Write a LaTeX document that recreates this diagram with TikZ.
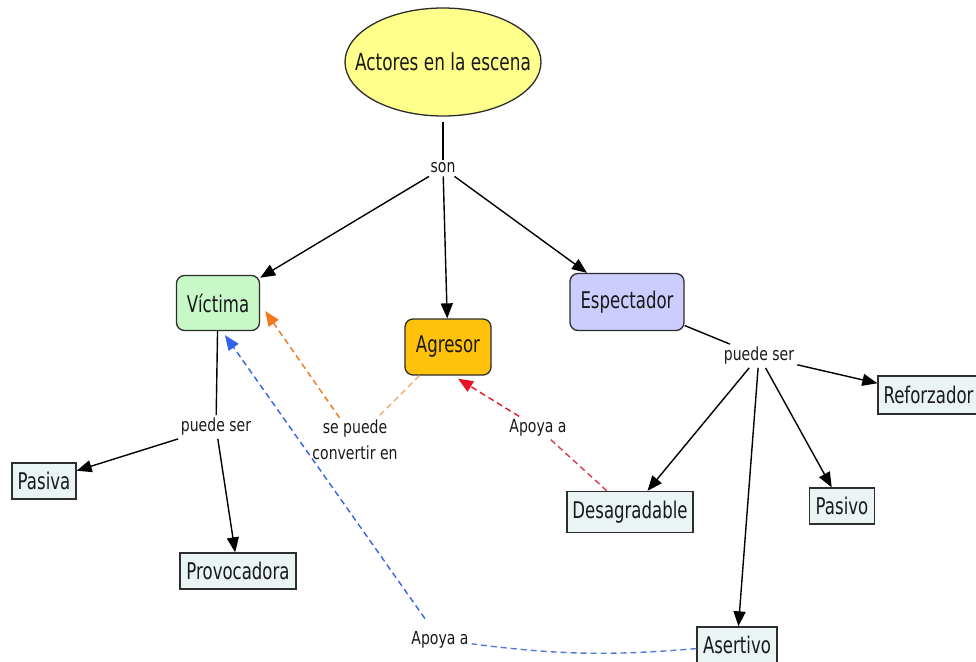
\documentclass[tikz,border=0pt]{standalone}
\usepackage{fontspec}
\setmainfont{DejaVu Sans}
\newfontfamily\cfont{DejaVu Sans}[FakeStretch=0.72]
\newfontfamily\lfont{DejaVu Sans}[FakeStretch=0.78]
\usetikzlibrary{arrows.meta,shapes.geometric,calc}
\definecolor{bord}{RGB}{45,45,45}
\definecolor{txt}{RGB}{25,25,25}
\definecolor{yel}{RGB}{255,255,140}
\definecolor{grn}{RGB}{200,248,200}
\definecolor{org}{RGB}{255,194,10}
\definecolor{lav}{RGB}{204,204,255}
\definecolor{leafc}{RGB}{234,244,244}
\definecolor{orA}{RGB}{240,120,30}
\definecolor{orB}{RGB}{240,165,100}
\definecolor{rdA}{RGB}{232,20,40}
\definecolor{rdB}{RGB}{215,60,80}
\definecolor{blA}{RGB}{50,100,235}
\definecolor{blB}{RGB}{85,120,215}
\begin{document}
\begin{tikzpicture}[x=1pt,y=-1pt,
  concept/.style={draw=bord, line width=1.3pt, rounded corners=8pt, text=txt,
    font=\cfont\fontsize{23}{27}\selectfont, inner xsep=10pt, minimum height=55pt},
  leaf/.style={draw=bord, line width=1.3pt, fill=leafc, text=txt,
    font=\cfont\fontsize{23}{27}\selectfont, inner xsep=5.5pt, minimum height=36pt},
  lab/.style={font=\lfont\fontsize{18}{26}\selectfont, fill=white, inner sep=3pt, text=txt},
  conn/.style={line width=1.4pt, black},
  tip/.style={-{Triangle[length=15pt,width=12pt]}},
  arr/.style={conn, tip},
  dsh/.style={line width=1.4pt, dash pattern=on 6pt off 4pt}
]
\useasboundingbox[fill=white] (0,0) rectangle (976,661);

% concepts
\node[ellipse, draw=bord, line width=1.3pt, fill=yel, minimum width=196pt, minimum height=108pt,
  inner sep=0pt, font=\cfont\fontsize{23.5}{27}\selectfont, text=txt] (act) at (443,62) {\makebox[0pt]{Actores en la escena}};
\node[concept, fill=grn, minimum width=83pt] (vic) at (218,303) {Víctima};
\node[concept, fill=org, minimum width=86pt, minimum height=56pt] (agr) at (448,347) {Agresor};
\node[concept, fill=lav, minimum width=114pt, minimum height=57pt] (esp) at (627,302) {Espectador};

\node[leaf, minimum width=64pt] (pasa) at (44,481) {Pasiva};
\node[leaf, minimum width=116pt] (pro) at (238,571) {Provocadora};
\node[leaf, minimum width=126pt, minimum height=41pt] (des) at (630,512) {Desagradable};
\node[leaf, minimum width=65pt] (paso) at (842,506) {Pasivo};
\node[leaf, minimum height=38pt] (ref) at (928.5,395) {Reforzador};
\node[leaf, minimum width=80pt] (ase) at (737,645) {Asertivo};

% labels
\node[lab] (son) at (443,168) {son};
\node[lab] (vps) at (216,427) {puede ser};
\node[lab] (eps) at (759,356) {puede ser};
\node[lab, align=center, inner sep=2pt] (conv) at (355,440) {se puede\\convertir en};
\node[lab] (ap1) at (538,428) {Apoya a};
\node[lab] (ap2) at (440,640) {Apoya a};

\coordinate (vicO) at ($(vic.east)+(5,8)$);
\coordinate (vicB) at ($(vic.south)+(7,4)$);
\coordinate (agrR) at ($(agr.south)+(10,3)$);

% black connectors
\draw[conn, shorten <=5pt] (act) -- (son);
\draw[arr] (son) -- (vic);
\draw[arr] (son) -- (agr);
\draw[arr] (son) -- (esp);

\draw[conn] (vic) -- (vps);
\draw[arr] (vps) -- (pasa);
\draw[arr] (vps) -- (pro);

\draw[conn] (esp) -- (eps);
\draw[arr] (eps) -- (ref);
\draw[arr] (eps) -- (des);
\draw[arr] (eps) -- (paso);
\draw[arr] (eps) -- (ase);

% orange
\draw[dsh, orB] (agr) -- (conv);
\draw[dsh, orA, tip] (conv) -- (vicO);

% red
\draw[dsh, rdB] (des) -- (ap1);
\draw[dsh, rdA, tip] (ap1) -- (agrR);

% blue
\draw[dsh, blB] (ase) to[bend left=6] (ap2);
\draw[dsh, blA, tip, shorten <=12pt] (ap2) -- (vicB);
\end{tikzpicture}
\end{document}
